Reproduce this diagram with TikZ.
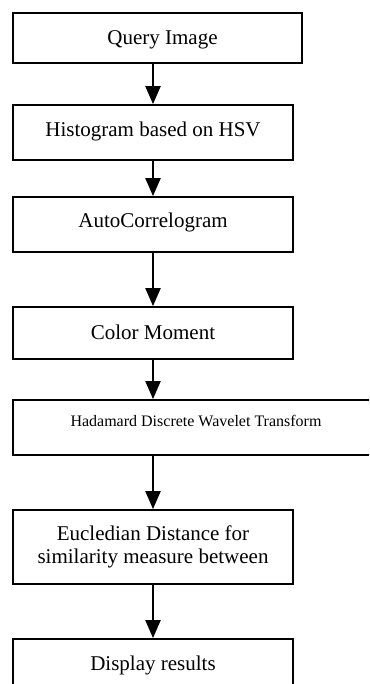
\documentclass[tikz,border=0pt]{standalone}
\usepackage{fontspec}
\setmainfont{Liberation Serif}
\usetikzlibrary{arrows.meta}
\begin{document}
\begin{tikzpicture}[x=1pt,y=-1pt,
  box/.style={draw,line width=1.8pt,rectangle,inner sep=0pt,minimum width=280pt,
    font=\fontsize{21}{23}\selectfont},
  oneline/.style={text height=14pt,text depth=#1},
  flow/.style={line width=2.2pt,-{Triangle[length=18pt,width=15pt]}}]
\useasboundingbox (0,0) rectangle (369,684);
\clip (0,0) rectangle (369,684);
\node[box,oneline=0pt,minimum width=289pt,minimum height=50pt] (q) at (157.5,38) {\hspace*{10pt}Query Image};
\node[box,oneline=5pt,minimum height=55pt] (h) at (153,132.5) {Histogram based on HSV};
\node[box,oneline=7pt,minimum height=55pt] (a) at (153,224.5) {AutoCorrelogram};
\node[box,oneline=2pt,minimum height=52pt] (c) at (153,333) {Color Moment};
\node[box,minimum width=366pt,minimum height=55pt,font=\fontsize{16}{18}\selectfont,
  text height=10.6pt,text depth=13pt] (w) at (196,427.5) {Hadamard Discrete Wavelet Transform};
\node[box,minimum height=74pt,align=center] (e) at (153,547) {Eucledian Distance for\\similarity measure between};
\node[box,oneline=6pt,minimum height=55pt] (d) at (153,666.5) {Display results};
\coordinate (ax) at (153,0);
\draw[flow] (q.south -| ax) -- (h.north -| ax);
\draw[flow] (h.south -| ax) -- (a.north -| ax);
\draw[flow] (a.south -| ax) -- (c.north -| ax);
\draw[flow] (c.south -| ax) -- (w.north -| ax);
\draw[flow] (w.south -| ax) -- (e.north -| ax);
\draw[flow] (e.south -| ax) -- (d.north -| ax);
\end{tikzpicture}
\end{document}
